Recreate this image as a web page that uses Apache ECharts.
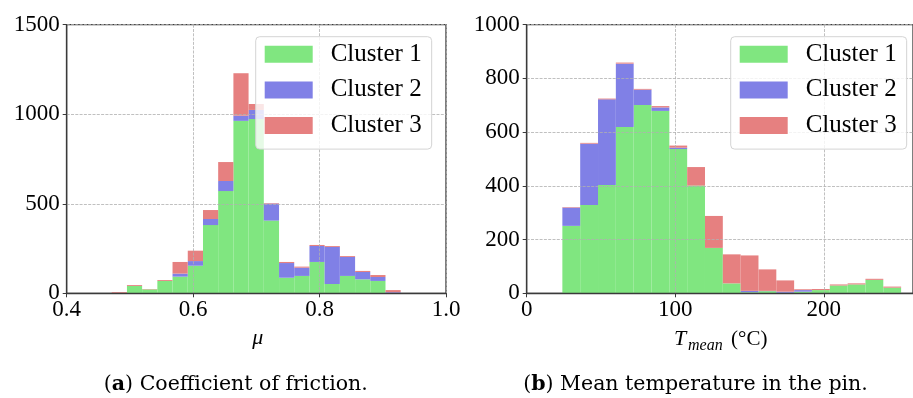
<!DOCTYPE html>
<html>
<head>
<meta charset="utf-8">
<script src="https://cdn.jsdelivr.net/npm/echarts@6/dist/echarts.min.js"></script>
<style>
html,body{margin:0;padding:0;background:#fff;}
#chart{width:913px;height:398px;}
</style>
</head>
<body>
<div id="chart"></div>
<script>
// ---- Data: (a) coefficient of friction histogram (bin edges + counts per cluster)
const muEdges = [0.4712, 0.4953, 0.5193, 0.5434, 0.5674, 0.5915, 0.6156, 0.6396, 0.6637, 0.6877,
                 0.7118, 0.7359, 0.7599, 0.7840, 0.8080, 0.8321, 0.8562, 0.8802, 0.9043, 0.9283];
const muCluster1 = [0, 41, 22, 69, 93, 154, 381, 571, 963, 973, 406, 87, 97, 175, 52, 97, 78, 69, 2];
const muCluster2 = [0, 0, 0, 0, 17, 26, 34, 56, 29, 51, 95, 82, 46, 89, 207, 106, 41, 22, 4];
const muCluster3 = [6, 5, 2, 5, 65, 58, 50, 106, 237, 33, 3, 6, 6, 6, 5, 5, 6, 11, 12];

// ---- Data: (b) mean temperature in the pin histogram
const tEdges = [24, 36, 48, 60, 72, 84, 96, 108, 120, 132, 144, 156, 168, 180, 192, 204, 216, 228, 240, 252];
const tCluster1 = [251, 329, 403, 619, 701, 679, 537, 401, 169, 37, 4, 8, 2, 6, 12, 29, 33, 50, 21];
const tCluster2 = [68, 228, 319, 236, 57, 13, 5, 0, 0, 0, 5, 1, 4, 6, 0, 0, 0, 0, 0];
const tCluster3 = [2, 3, 3, 4, 3, 5, 8, 69, 119, 108, 132, 80, 42, 3, 4, 4, 4, 4, 4];

// ---- Tick labels
const muTicks = ['0.4', '0.6', '0.8', '1.0'];
const muCountTicks = ['0', '500', '1000', '1500'];
const tTicks = ['0', '100', '200'];
const tCountTicks = ['0', '200', '400', '600', '800', '1000'];

const clusterNames = ['Cluster 1', 'Cluster 2', 'Cluster 3'];
const clusterColors = ['#80e680', '#8080e6', '#e68080'];

function stackItems(edges, lists) {
  const out = lists.map(() => []);
  for (let i = 0; i < edges.length - 1; i++) {
    let base = 0;
    lists.forEach((arr, k) => {
      const top = base + arr[i];
      out[k].push([edges[i], edges[i + 1], base, top]);
      base = top;
    });
  }
  return out;
}

const renderBin = (params, api) => {
  const a = api.coord([api.value(0), api.value(3)]);
  const b = api.coord([api.value(1), api.value(2)]);
  return {
    type: 'rect',
    shape: { x: a[0], y: a[1], width: b[0] - a[0], height: b[1] - a[1] },
    style: api.style()
  };
};

const muStack = stackItems(muEdges, [muCluster1, muCluster2, muCluster3]);
const tStack = stackItems(tEdges, [tCluster1, tCluster2, tCluster3]);

const FONT = 'Liberation Serif';
const axisColor = '#3a3a3a';
const gridLine = { show: true, lineStyle: { color: '#b0b0b0', width: 0.8, type: [3, 1.3] } };

function xAx(gridIndex, min, max, interval, labels, showMax) {
  return {
    type: 'value', gridIndex, min, max, interval, z: 3,
    axisLine: { show: true, onZero: false, lineStyle: { color: axisColor, width: 1.3 } },
    axisTick: { show: true, length: 4, lineStyle: { color: axisColor, width: 1 } },
    axisLabel: {
      margin: 5, color: '#000', fontFamily: FONT, fontSize: 23, showMaxLabel: showMax,
      formatter: (v) => { const i = Math.round((v - min) / interval); return labels[i] !== undefined && Math.abs(v - (min + i * interval)) < 1e-6 ? labels[i] : ''; }
    },
    splitLine: gridLine
  };
}
function yAx(gridIndex, max, interval, labels) {
  return {
    type: 'value', gridIndex, min: 0, max, interval, z: 3,
    axisLine: { show: true, lineStyle: { color: axisColor, width: 1.3 } },
    axisTick: { show: true, length: 4, lineStyle: { color: axisColor, width: 1 } },
    axisLabel: {
      margin: 7, color: '#000', fontFamily: FONT, fontSize: 23,
      formatter: (v) => labels[Math.round(v / interval)] || ''
    },
    splitLine: gridLine
  };
}

function legendAt(left) {
  return {
    data: clusterNames, orient: 'vertical', left, top: 36.7,
    padding: [5, 10, 11, 9], itemGap: 10.7, itemWidth: 48, itemHeight: 17,
    icon: 'rect', selectedMode: false,
    backgroundColor: 'rgba(255,255,255,0.8)', borderColor: '#d4d4d4', borderWidth: 1, borderRadius: 4,
    textStyle: { fontFamily: FONT, fontSize: 25, color: '#000', padding: [0, 0, 0, 13] }
  };
}

const series = [];
clusterNames.forEach((name, k) => {
  series.push({
    type: 'custom', name, xAxisIndex: 0, yAxisIndex: 0, z: 2,
    renderItem: renderBin, encode: { x: [0, 1], y: [2, 3] },
    itemStyle: { color: clusterColors[k] }, data: muStack[k], silent: true
  });
});
clusterNames.forEach((name, k) => {
  series.push({
    type: 'custom', name, xAxisIndex: 1, yAxisIndex: 1, z: 2,
    renderItem: renderBin, encode: { x: [0, 1], y: [2, 3] },
    itemStyle: { color: clusterColors[k] }, data: tStack[k], silent: true
  });
});

const chart = echarts.init(document.getElementById('chart'), null, { renderer: 'canvas' });
chart.setOption({
  animation: false,
  backgroundColor: '#fff',
  textStyle: { fontFamily: FONT },
  grid: [
    { left: 66.7, top: 24.7, width: 379.3, height: 268.6, show: true, borderColor: axisColor, borderWidth: 1.3, backgroundColor: 'transparent' },
    { left: 526.7, top: 24.7, width: 394.3, height: 268.6, show: true, borderColor: axisColor, borderWidth: 1.3, backgroundColor: 'transparent' }
  ],
  xAxis: [xAx(0, 0.4, 1.0, 0.2, muTicks, true), xAx(1, 0, 260, 100, tTicks, false)],
  yAxis: [yAx(0, 1500, 500, muCountTicks), yAx(1, 1000, 200, tCountTicks)],
  legend: [legendAt(255.7), legendAt(730.7)],
  series,
  graphic: [
    { type: 'text', x: 257.8, y: 338.6, style: { text: 'μ', fontFamily: FONT, fontStyle: 'italic', fontSize: 22, fill: '#000', align: 'center', verticalAlign: 'middle' } },
    { type: 'text', x: 674, y: 339, style: { text: 'T', fontFamily: FONT, fontStyle: 'italic', fontSize: 22, fill: '#000', align: 'left', verticalAlign: 'middle' } },
    { type: 'text', x: 688, y: 345.6, style: { text: 'mean', fontFamily: FONT, fontStyle: 'italic', fontSize: 16, fill: '#000', align: 'left', verticalAlign: 'middle' } },
    { type: 'text', x: 731, y: 339.2, style: { text: '(°C)', fontFamily: FONT, fontSize: 21, fill: '#000', align: 'left', verticalAlign: 'middle' } },
    { type: 'text', x: 235.8, y: 385, style: {
        text: '{b|(}{bb|a}{b|) Coefficient of friction.}', align: 'center', verticalAlign: 'middle',
        rich: { b: { fontFamily: 'DejaVu Serif', fontSize: 20.5, color: '#000' }, bb: { fontFamily: 'DejaVu Serif', fontSize: 20.5, fontWeight: 'bold', color: '#000' } } } },
    { type: 'text', x: 695.5, y: 385, style: {
        text: '{b|(}{bb|b}{b|) Mean temperature in the pin.}', align: 'center', verticalAlign: 'middle',
        rich: { b: { fontFamily: 'DejaVu Serif', fontSize: 20.5, color: '#000' }, bb: { fontFamily: 'DejaVu Serif', fontSize: 20.5, fontWeight: 'bold', color: '#000' } } } }
  ]
});
</script>
</body>
</html>
